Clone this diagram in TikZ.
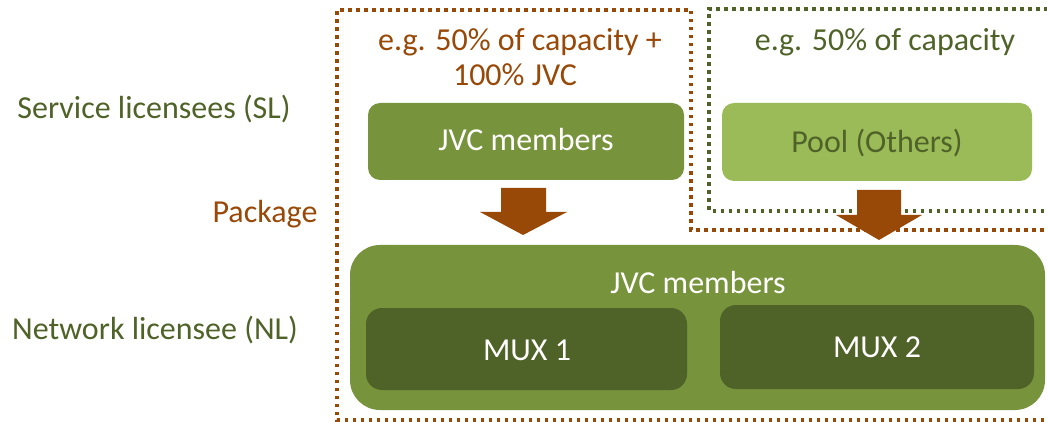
\documentclass[tikz,border=0pt]{standalone}
\usepackage{fontspec}
\setmainfont{Carlito}
\definecolor{brn}{RGB}{152,72,7}
\definecolor{dgreen}{RGB}{79,98,40}
\definecolor{mgreen}{RGB}{119,147,60}
\definecolor{lgreen}{RGB}{155,187,89}
\begin{document}
\begin{tikzpicture}[x=1pt,y=-1pt,
  lbl/.style={anchor=base,inner sep=0pt,font=\fontsize{32}{35}\selectfont,align=center},
  box/.style={rounded corners=12pt},
  dotline/.style={line width=3.5pt,dash pattern=on 3.5pt off 4.5pt},
  bigarrow/.style={fill=brn}]
\useasboundingbox (0,0) rectangle (1047,422);
% dotted outlines
\draw[dotline,brn] (1060,420) -- (337,420) -- (337,10) -- (691,10) -- (691,230) -- (1060,230);
\draw[dotline,dgreen] (1060,211) -- (709,211) -- (709,9) -- (1060,9);
% boxes
\fill[box,mgreen] (368,103) rectangle (684,180);
\fill[box,lgreen] (722,103) rectangle (1032,181);
\fill[mgreen,rounded corners=30pt] (350,245) rectangle (1045,410);
\fill[box,dgreen,rounded corners=16pt] (366,308) rectangle (687,390);
\fill[box,dgreen,rounded corners=16pt] (720,305) rectangle (1034,389);
% arrows
\fill[bigarrow] (501,188) -- (546,188) -- (546,212) -- (567,212) -- (523,235) -- (480,212) -- (501,212) -- cycle;
\fill[bigarrow] (857,190) -- (901,190) -- (901,215) -- (922,215) -- (879,240) -- (836,215) -- (857,215) -- cycle;
% labels
\node[lbl,text=dgreen] (sl) at (154,119) {Service licensees (SL)};
\node[lbl,text=brn] (pk) at (265,223) {Package};
\node[lbl,text=dgreen] (nl) at (155,339) {Network licensee (NL)};
\node[lbl,text=brn] (eg1) at (520,51) {e.g. 50\% of capacity +};
\node[lbl,text=brn] (eg2) at (515,86) {100\% JVC};
\node[lbl,text=dgreen] (eg3) at (885,51) {e.g. 50\% of capacity};
\node[lbl,text=white] (jvc1) at (526,151) {JVC members};
\node[lbl,text=dgreen] (pool) at (877,153) {Pool (Others)};
\node[lbl,text=white] (jvc2) at (698,293) {JVC members};
\node[lbl,text=white] (mux1) at (527,360) {MUX 1};
\node[lbl,text=white] (mux2) at (877,357) {MUX 2};
\end{tikzpicture}
\end{document}
